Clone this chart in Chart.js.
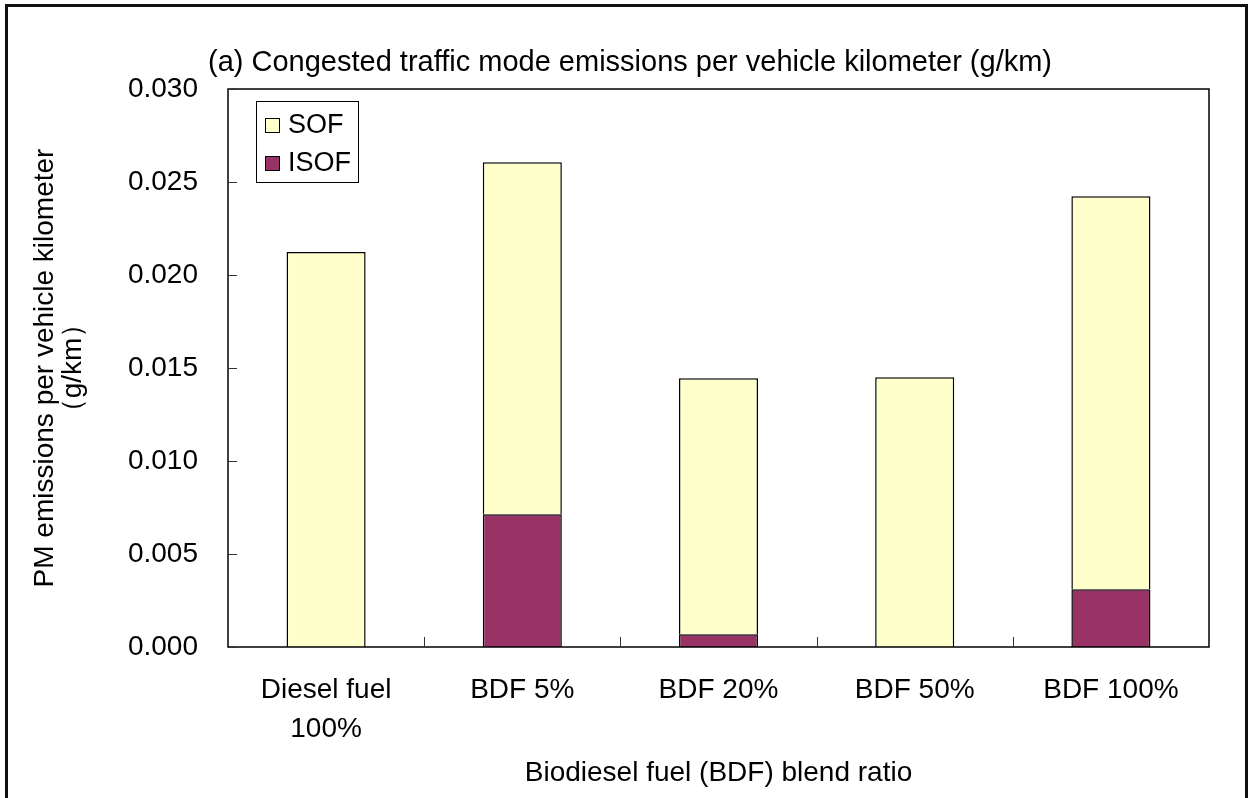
<!DOCTYPE html>
<html>
<head>
<meta charset="utf-8">
<script src="https://cdn.jsdelivr.net/npm/chart.js@4"></script>
<style>
  html, body { margin: 0; padding: 0; background: #fff; overflow: hidden; }
  #wrap { position: relative; width: 1249px; height: 798px; }
  #frame { position: absolute; left: 5px; top: 4px; width: 1243px; height: 830px; border: 3px solid #111; box-sizing: border-box; }
  canvas { position: absolute; left: 0; top: 0; }
</style>
</head>
<body>
<div id="wrap">
  <div id="frame"></div>
  <canvas id="chart" width="1249" height="798"></canvas>
</div>
<script>
"use strict";

// categories and series (g/km)
var categories = [['Diesel fuel', '100%'], 'BDF 5%', 'BDF 20%', 'BDF 50%', 'BDF 100%'];
var isofValues = [0, 0.00714, 0.00068, 0, 0.0031];
var sofValues = [0.02123, 0.01892, 0.01377, 0.0145, 0.02114];
var yTicks = [0, 0.005, 0.01, 0.015, 0.02, 0.025, 0.03];

var titleText = '(a) Congested traffic mode emissions per vehicle kilometer (g/km)';
var xTitle = 'Biodiesel fuel (BDF) blend ratio';
var yTitle = ['PM emissions per vehicle kilometer', '\uFF08g/km\uFF09'];

var FONT = '"Liberation Sans", Arial, sans-serif';
var SOF_COLOR = '#FFFFCC';
var ISOF_COLOR = '#993366';

// frame, inward ticks, legend and titles
var decorPlugin = {
    id: 'decor',
    afterDatasetsDraw: function (chart) {
        var ctx = chart.ctx;
        var a = chart.chartArea;
        var x = chart.scales.x;
        var y = chart.scales.y;
        ctx.save();
        ctx.strokeStyle = '#000';
        ctx.lineWidth = 1.5;
        ctx.strokeRect(a.left, a.top, a.right - a.left, a.bottom - a.top);

        ctx.lineWidth = 1;
        ctx.strokeStyle = '#333';
        yTicks.forEach(function (v) {
            var py = Math.round(y.getPixelForValue(v)) + 0.5;
            ctx.beginPath();
            ctx.moveTo(a.left, py);
            ctx.lineTo(a.left + 9, py);
            ctx.stroke();
        });
        for (var i = 1; i < categories.length; i++) {
            var px = Math.round(x.getPixelForValue(i - 0.5)) + 0.5;
            ctx.beginPath();
            ctx.moveTo(px, a.bottom);
            ctx.lineTo(px, a.bottom - 10);
            ctx.stroke();
        }

        // legend
        ctx.fillStyle = '#fff';
        ctx.fillRect(256, 101, 102, 81);
        ctx.strokeStyle = '#000';
        ctx.lineWidth = 1;
        ctx.strokeRect(256.5, 101.5, 102, 81);
        var items = [['SOF', SOF_COLOR, 125], ['ISOF', ISOF_COLOR, 163]];
        items.forEach(function (it) {
            ctx.fillStyle = it[1];
            ctx.fillRect(265, it[2] - 7, 14, 14);
            ctx.strokeRect(265.5, it[2] - 6.5, 14, 14);
            ctx.fillStyle = '#000';
            ctx.font = '27px ' + FONT;
            ctx.textAlign = 'left';
            ctx.textBaseline = 'middle';
            ctx.fillText(it[0], 288, it[2] + 1);
        });

        // titles
        ctx.fillStyle = '#000';
        ctx.textAlign = 'center';
        ctx.textBaseline = 'middle';
        ctx.font = '29px ' + FONT;
        ctx.fillText(titleText, 630, 63);
        ctx.font = '28px ' + FONT;
        ctx.fillText(xTitle, (a.left + a.right) / 2, 773);

        ctx.translate(0, (a.top + a.bottom) / 2);
        ctx.rotate(-Math.PI / 2);
        ctx.fillText(yTitle[0], 0, 45);
        ctx.fillText(yTitle[1], 0, 73);
        ctx.restore();
    }
};

new Chart(document.getElementById('chart'), {
    type: 'bar',
    data: {
        labels: categories,
        datasets: [{
            label: 'ISOF',
            data: isofValues,
            backgroundColor: ISOF_COLOR,
            borderColor: '#000',
            borderWidth: 1.5,
            barPercentage: 0.403,
            categoryPercentage: 1
        }, {
            label: 'SOF',
            data: sofValues,
            backgroundColor: SOF_COLOR,
            borderColor: '#000',
            borderWidth: 1.5,
            barPercentage: 0.403,
            categoryPercentage: 1
        }]
    },
    options: {
        responsive: false,
        animation: false,
        layout: { padding: { left: 0, top: 89, right: 40, bottom: 0 } },
        plugins: {
            legend: { display: false },
            tooltip: { enabled: false }
        },
        scales: {
            x: {
                stacked: true,
                grid: { display: false },
                border: { display: false },
                ticks: {
                    color: '#000',
                    font: { family: FONT, size: 28, lineHeight: 1.39 },
                    padding: 16,
                    maxRotation: 0
                },
                afterFit: function (s) { s.height = 798 - 647; }
            },
            y: {
                stacked: true,
                min: 0,
                max: 0.03,
                grid: { display: false },
                border: { display: false },
                afterBuildTicks: function (s) {
                    s.ticks = yTicks.map(function (v) { return { value: v }; });
                },
                ticks: {
                    color: '#000',
                    font: { family: FONT, size: 28 },
                    padding: 22,
                    callback: function (v) { return Number(v).toFixed(3); }
                },
                afterFit: function (s) { s.width = 228; }
            }
        }
    },
    plugins: [decorPlugin]
});
</script>
</body>
</html>
